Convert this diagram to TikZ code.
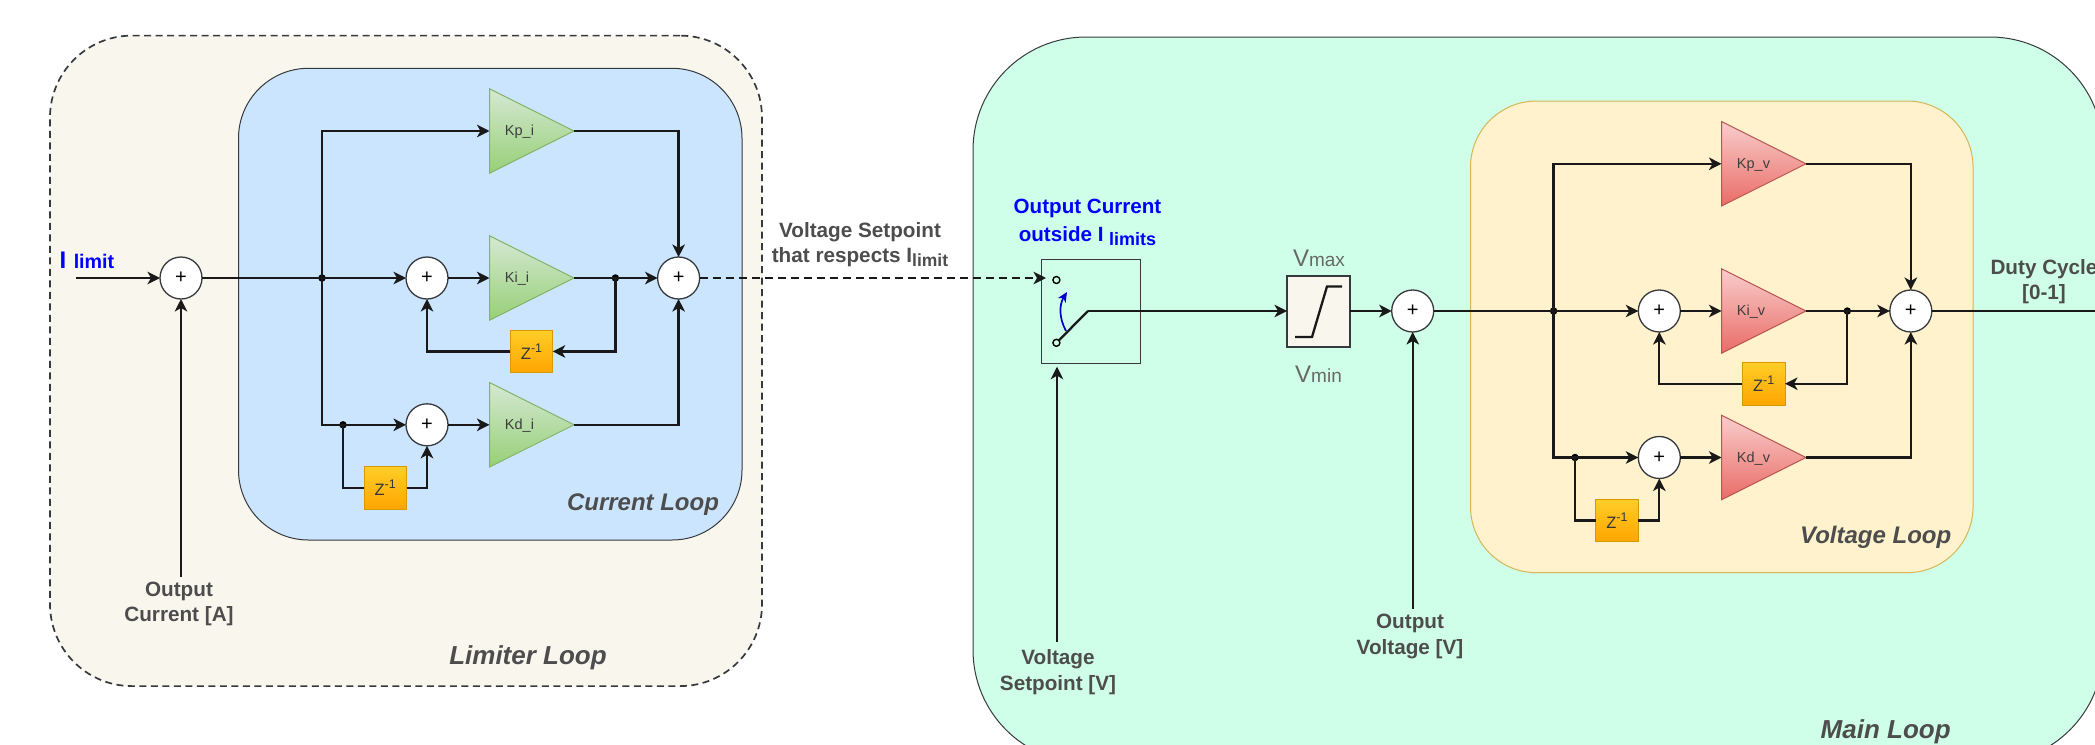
\documentclass[tikz,border=0pt]{standalone}
\usepackage{fontspec}
\setmainfont{Liberation Sans}
\usetikzlibrary{arrows.meta,shapes.geometric}
\definecolor{lblgray}{HTML}{4D4D4D}
\definecolor{framec}{HTML}{36393D}
\newcommand{\fsz}[1]{\fontsize{#1}{#1}\selectfont}
\newcommand{\zinv}{Z\raisebox{7pt}{\fsz{12.5}-1}}
\tikzset{
  loopbox/.style={anchor=north west,inner sep=0,outer sep=0,draw=framec,line width=1pt},
  gain/.style={isosceles triangle,isosceles triangle stretches,shape border rotate=0,anchor=lower side,inner sep=0,outer sep=0,minimum width=84.5pt,minimum height=84.5pt,line width=1pt},
  gaintxt/.style={font=\fsz{14.5},text=lblgray!80!black,inner sep=0},
  sumnode/.style={circle,draw=framec,fill=white,line width=1.3pt,minimum size=42pt,inner sep=0,outer sep=0,font=\fsz{20}},
  jdot/.style={circle,fill=black,minimum size=7.5pt,inner sep=0,outer sep=0},
  zbox/.style={anchor=north west,draw=zdraw,top color=ztop,bottom color=zbot,line width=0.8pt,inner sep=0,outer sep=0,font=\fsz{16.5},text=lblgray!70!black},
  conn/.style={draw=black!90,line width=2.3pt,line join=miter},
  arrowed/.style={conn,-{Stealth[length=12.5pt,width=12.5pt,inset=3.5pt]}},
  lbl/.style={font=\bfseries\fontsize{20.7}{25.5}\selectfont,text=lblgray,align=center,inner sep=0},
  blbl/.style={font=\bfseries\fontsize{20.6}{28.5}\selectfont,text=blue,align=center,inner sep=0},
  loopname/.style={font=\bfseries\itshape\fsz{24},text=lblgray,inner sep=0},
  contact/.style={circle,draw=black,line width=1.4pt,minimum size=7pt,inner sep=0,outer sep=0},
}
\definecolor{gtop}{HTML}{D5E8D4}\definecolor{gbot}{HTML}{97D077}\definecolor{gdraw}{HTML}{82B366}
\definecolor{rtop}{HTML}{F8CECC}\definecolor{rbot}{HTML}{EA6B66}\definecolor{rdraw}{HTML}{B85450}
\definecolor{ztop}{HTML}{FFCD28}\definecolor{zbot}{HTML}{FFA500}\definecolor{zdraw}{HTML}{D79B00}
\begin{document}
\begin{tikzpicture}[x=1pt,y=-1pt]
\useasboundingbox (0,0) rectangle (2095,744);
\clip (0,0) rectangle (2095,744);
\fill[white] (0,0) rectangle (2095,744);
% ---- containers
\node[loopbox,fill={rgb,255:red,249;green,247;blue,237},dash pattern=on 7pt off 4.5pt,line width=1.7pt,rounded corners=82pt,minimum width=712pt,minimum height=650.5pt] (limiter) at (50,35.6) {};
\node[loopbox,fill={rgb,255:red,204;green,229;blue,255},rounded corners=70pt,minimum width=503.5pt,minimum height=471.7pt] (curloop) at (238.5,68.3) {};
\node[loopbox,fill={rgb,255:red,207;green,255;blue,232},rounded corners=113pt,minimum width=1130pt,minimum height=726pt] (mainloop) at (973,37) {};
\node[loopbox,draw={rgb,255:red,214;green,182;blue,86},fill={rgb,255:red,255;green,242;blue,204},rounded corners=66pt,minimum width=502.5pt,minimum height=471.7pt] (volloop) at (1470.5,101) {};
% ---- current loop blocks
\node[sumnode] (s1) at (181,278) {+};
\node[sumnode] (s2) at (427,278) {+};
\node[sumnode] (s3) at (427,424.8) {+};
\node[sumnode] (s4) at (678.6,278) {+};
\node[gain,draw=gdraw,top color=gtop,bottom color=gbot] (kpi) at (489.5,131) {};
\node[gain,draw=gdraw,top color=gtop,bottom color=gbot] (kii) at (489.5,278) {};
\node[gain,draw=gdraw,top color=gtop,bottom color=gbot] (kdi) at (489.5,424.8) {};
\node[gaintxt] (kpit) at (519.5,132) {Kp\_i};
\node[gaintxt] (kiit) at (517,279) {Ki\_i};
\node[gaintxt] (kdit) at (519.5,425.8) {Kd\_i};
\node[jdot] (j1) at (322,278) {};
\node[jdot] (j2) at (343,424.8) {};
\node[jdot] (j3) at (615.4,278) {};
\node[zbox,minimum width=42.3pt,minimum height=42.3pt] (z1) at (510.4,330.3) {\zinv};
\node[zbox,minimum width=42.5pt,minimum height=42.8pt] (z2) at (364,466.5) {\zinv};
\coordinate (iin) at (76,278);
\coordinate (ocin) at (181,576.6);
\draw[arrowed] (iin) -- (s1);
\draw[arrowed] (ocin) -- (s1);
\draw[conn] (s1) -- (j1.center);
\draw[arrowed] (j1.center) -- (s2);
\draw[arrowed] (j1.center) |- (kpi.lower side);
\draw[conn] (j1.center) |- (j2.center);
\draw[arrowed] (j2.center) -- (s3);
\draw[conn] (j2.center) |- (z2.west);
\draw[arrowed] (z2.east) -| (s3.south);
\draw[arrowed] (s2) -- (kii.lower side);
\draw[arrowed] (s3) -- (kdi.lower side);
\draw[conn] (kii.apex) -- (j3.center);
\draw[arrowed] (j3.center) -- (s4);
\draw[arrowed] (j3.center) |- (z1.east);
\draw[arrowed] (z1.west) -| (s2.south);
\draw[arrowed] (kpi.apex) -| (s4.north);
\draw[arrowed] (kdi.apex) -| (s4.south);
% ---- switch
\node[anchor=north west,draw=framec,line width=1pt,minimum width=99pt,minimum height=104pt,inner sep=0,outer sep=0] (sw) at (1041,259) {};
\node[contact] (swa) at (1056.4,280) {};
\node[contact] (swb) at (1056.4,342.8) {};
\coordinate (elbow) at (1088,311);
\coordinate (swin) at (1046,278);
\coordinate (vsin) at (1057,642);
\coordinate (vsend) at (1057,366.7);
\draw[conn,dash pattern=on 8pt off 5pt] (s4) -- ([xshift=-8pt]swin);
\draw[-{Stealth[length=12.5pt,width=12.5pt,inset=3.5pt]},line width=2.3pt,draw=black!90] ([xshift=-8pt]swin) -- (swin);
\draw[arrowed] (vsin) -- (vsend);
\draw[line width=1.7pt,draw={rgb,255:red,0;green,0;blue,204},-{Stealth[length=10pt,width=9pt,inset=3pt]}] (1066,331) .. controls (1059,318) and (1059,305) .. (1067,292);
% ---- saturation
\node[anchor=north west,draw=framec,fill={rgb,255:red,249;green,247;blue,237},line width=1.6pt,minimum width=63pt,minimum height=71pt,inner sep=0,outer sep=0] (sat) at (1287,276) {};
\draw[conn] (swb) -- (elbow);
\draw[arrowed] (elbow) -- (sat.west |- elbow);
\draw[conn] (1295,337) -- (1312,337) -- (1327,286.4) -- (1342,286.4);
\node[sumnode] (s5) at (1412.7,311) {+};
\draw[arrowed] (sat.east |- s5) -- (s5);
\coordinate (ovin) at (1412.7,609);
\draw[arrowed] (ovin) -- (s5);
% ---- voltage loop blocks
\node[sumnode] (s6) at (1659.3,311) {+};
\node[sumnode] (s7) at (1659.3,457.5) {+};
\node[sumnode] (s8) at (1910.8,311) {+};
\node[gain,draw=rdraw,top color=rtop,bottom color=rbot] (kpv) at (1721.5,163.8) {};
\node[gain,draw=rdraw,top color=rtop,bottom color=rbot] (kiv) at (1721.5,311) {};
\node[gain,draw=rdraw,top color=rtop,bottom color=rbot] (kdv) at (1721.5,457.5) {};
\node[gaintxt] (kpvt) at (1753.5,165) {Kp\_v};
\node[gaintxt] (kivt) at (1751,312) {Ki\_v};
\node[gaintxt] (kdvt) at (1753.5,458.5) {Kd\_v};
\node[jdot] (j4) at (1553.6,311) {};
\node[jdot] (j5) at (1575,457.5) {};
\node[jdot] (j6) at (1847.3,311) {};
\node[zbox,minimum width=42.6pt,minimum height=42.6pt] (z3) at (1742.4,362.4) {\zinv};
\node[zbox,minimum width=42.2pt,minimum height=42.3pt] (z4) at (1595.8,499.4) {\zinv};
\coordinate (dutyout) at (2095,311);
\draw[conn] (s5) -- (j4.center);
\draw[arrowed] (j4.center) -- (s6);
\draw[arrowed] (j4.center) |- (kpv.lower side);
\draw[conn] (j4.center) |- (j5.center);
\draw[arrowed] (j5.center) -- (s7);
\draw[conn] (j5.center) |- (z4.west);
\draw[arrowed] (z4.east) -| (s7.south);
\draw[arrowed] (s6) -- (kiv.lower side);
\draw[arrowed] (s7) -- (kdv.lower side);
\draw[conn] (kiv.apex) -- (j6.center);
\draw[arrowed] (j6.center) -- (s8);
\draw[arrowed] (j6.center) |- (z3.east);
\draw[arrowed] (z3.west) -| (s6.south);
\draw[arrowed] (kpv.apex) -| (s8.north);
\draw[arrowed] (kdv.apex) -| (s8.south);
\draw[conn] (s8) -- (dutyout);
% ---- labels
\node[text=blue,font=\bfseries\fsz{24},inner sep=0] (ilim1) at (63,260) {I};
\node[text=blue,font=\bfseries\fsz{19.7},inner sep=0] (ilim2) at (94,261.5) {limit};
\node[lbl] (oc) at (179,604) {Output\\Current [A]};
\node[loopname,font=\bfseries\itshape\fsz{26}] (limname) at (528,658) {Limiter Loop};
\node[loopname] (curname) at (643,504.5) {Current Loop};
\node[lbl,anchor=center] (vsr) at (860,244.5) {Voltage Setpoint\\that respects I{\fsz{17.5}\raisebox{-4pt}{limit}}};
\node[blbl] (oco) at (1087.5,222.5) {Output Current\\outside I {\fsz{18}\raisebox{-4pt}{limits}}};
\node[text=lblgray!85,inner sep=0] (vmax) at (1319,258.7) {\fsz{24}V\fsz{19}max};
\node[text=lblgray!85,inner sep=0] (vmin) at (1318.5,374) {\fsz{24}V\fsz{19}min};
\node[lbl] (vsp) at (1058,672) {Voltage\\Setpoint [V]};
\node[lbl] (ov) at (1410,636.5) {Output\\Voltage [V]};
\node[lbl] (duty) at (2044,281.5) {Duty Cycle\\{[0-1]}};
\node[loopname] (volname) at (1875.7,537) {Voltage Loop};
\node[loopname,font=\bfseries\itshape\fsz{26}] (mainname) at (1885.7,732) {Main Loop};
\end{tikzpicture}
\end{document}
